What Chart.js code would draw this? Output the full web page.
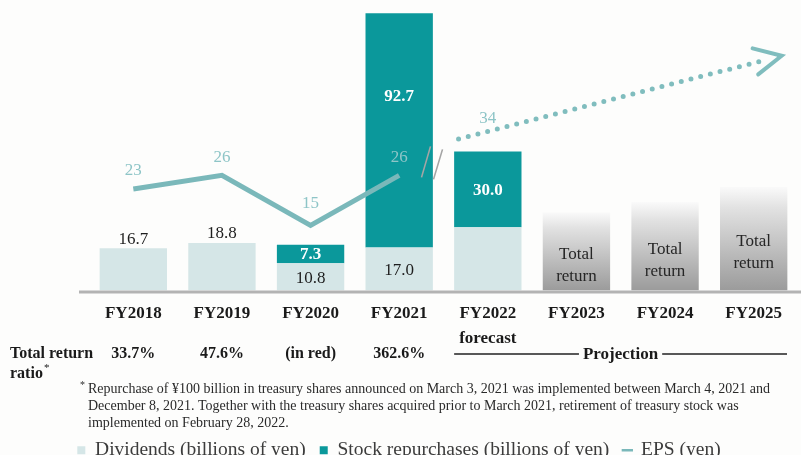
<!DOCTYPE html>
<html>
<head>
<meta charset="utf-8">
<script src="https://cdn.jsdelivr.net/npm/chart.js@4.4.0/dist/chart.umd.min.js"></script>
<style>
  html, body { margin: 0; padding: 0; background: #fdfdfc; }
</style>
</head>
<body>
<canvas id="return-chart" width="801" height="455"></canvas>
<script>
const years = ["FY2018", "FY2019", "FY2020", "FY2021", ["FY2022", "forecast"], "FY2023", "FY2024", "FY2025"];
const dividends = [16.7, 18.8, 10.8, 17.0, 25, null, null, null];
const repurchases = [null, null, 7.3, 92.7, 30.0, null, null, null];
const projectedReturn = [null, null, null, null, null, 31, 35, 41];
const eps = [23, 26, 15, 26];
const epsForecast = 34;
// dotted EPS trend arrow (x in category units)
const epsTrendX = [3.67, 7.13];
const epsTrendY = [34, 51.4];
const returnRatios = ["33.7%", "47.6%", "(in red)", "362.6%"];
const footnote = [
  "Repurchase of \u00a5100 billion in treasury shares announced on March 3, 2021 was implemented between March 4, 2021 and",
  "December 8, 2021. Together with the treasury shares acquired prior to March 2021, retirement of treasury stock was",
  "implemented on February 28, 2022."
];

const serif = "'Liberation Serif', 'Times New Roman', serif";
const epsColor = "#7ab8ba";
const epsText = "#8ec5c7";

function projectionFill(context) {
  const chart = context.chart;
  const yScale = chart.scales.y;
  if (!yScale || !context.parsed || context.parsed.y == null) return "#bdbdbd";
  const top = yScale.getPixelForValue(context.parsed.y);
  const bottom = yScale.getPixelForValue(0);
  if (!isFinite(top) || !isFinite(bottom)) return "#bdbdbd";
  const g = chart.ctx.createLinearGradient(0, top, 0, bottom);
  g.addColorStop(0, "#fafafa");
  g.addColorStop(0.2, "#e2e2e2");
  g.addColorStop(1, "#9b9b9b");
  return g;
}

const annotations = {
  id: "annotations",
  afterDraw(chart) {
    const { ctx, chartArea: area, scales } = chart;
    const x = scales.x, xl = scales.xl, y2 = scales.y2;
    ctx.save();

    // baseline
    ctx.strokeStyle = "#b3b3b3";
    ctx.lineWidth = 3;
    ctx.beginPath();
    ctx.moveTo(area.left - 10, area.bottom + 1.5);
    ctx.lineTo(chart.width, area.bottom + 1.5);
    ctx.stroke();

    ctx.textAlign = "center";
    ctx.textBaseline = "middle";

    // dividend labels (actual years only)
    const divMeta = chart.getDatasetMeta(0);
    dividends.forEach((v, i) => {
      if (v == null || i >= eps.length) return;
      const el = divMeta.data[i];
      ctx.font = `17px ${serif}`;
      ctx.fillStyle = "#1e1e1e";
      const ly = repurchases[i] == null ? el.y - 9 : (el.y + el.base) / 2 + 2;
      ctx.fillText(v.toFixed(1), el.x, ly);
    });

    // repurchase labels
    const repMeta = chart.getDatasetMeta(1);
    repurchases.forEach((v, i) => {
      if (v == null) return;
      const el = repMeta.data[i];
      ctx.font = `bold 17px ${serif}`;
      ctx.fillStyle = "#ffffff";
      const h = el.base - el.y;
      const ly = h > 150 ? el.y + 83 : (el.y + el.base) / 2 + 1;
      ctx.fillText(v.toFixed(1), el.x, ly);
    });

    // projection bars
    const projMeta = chart.getDatasetMeta(2);
    projectedReturn.forEach((v, i) => {
      if (v == null) return;
      const el = projMeta.data[i];
      const mid = (el.y + el.base) / 2;
      ctx.font = `17px ${serif}`;
      ctx.fillStyle = "#262626";
      ctx.fillText("Total", el.x, mid + 3);
      ctx.fillText("return", el.x, mid + 25);
    });

    // EPS labels
    const epsMeta = chart.getDatasetMeta(3);
    ctx.font = `17px ${serif}`;
    ctx.fillStyle = epsText;
    eps.forEach((v, i) => {
      const el = epsMeta.data[i];
      ctx.fillText(String(v), el.x, el.y - (v < 20 ? 22 : 18));
    });
    ctx.fillText(String(epsForecast), x.getPixelForValue(4), y2.getPixelForValue(epsForecast) - 20);

    // break mark
    const bx = xl.getPixelForValue(3.5);
    const by = y2.getPixelForValue(26);
    ctx.strokeStyle = "#a5a5a5";
    ctx.lineWidth = 1.6;
    ctx.beginPath();
    ctx.moveTo(bx - 22, by + 2); ctx.lineTo(bx - 13, by - 29);
    ctx.moveTo(bx - 10, by + 4); ctx.lineTo(bx - 1, by - 26);
    ctx.stroke();

    // arrow head for trend
    const trend = chart.getDatasetMeta(4).data;
    const p0 = trend[0], p1 = trend[trend.length - 1];
    const ang = Math.atan2(p1.y - p0.y, p1.x - p0.x);
    const tipX = p1.x + 17 * Math.cos(ang), tipY = p1.y + 17 * Math.sin(ang);
    ctx.strokeStyle = "#80bdbe";
    ctx.lineWidth = 4;
    ctx.lineCap = "round";
    ctx.beginPath();
    ctx.moveTo(tipX + 30 * Math.cos(ang + Math.PI - 0.42), tipY + 30 * Math.sin(ang + Math.PI - 0.42));
    ctx.lineTo(tipX, tipY);
    ctx.lineTo(tipX + 30 * Math.cos(ang + Math.PI + 0.5), tipY + 30 * Math.sin(ang + Math.PI + 0.5));
    ctx.stroke();
    ctx.lineCap = "butt";

    // total return ratio row
    ctx.fillStyle = "#1a1a1a";
    ctx.font = `bold 16px ${serif}`;
    ctx.textAlign = "left";
    ctx.fillText("Total return", 10, 354);
    ctx.fillText("ratio", 10, 374);
    const rw = ctx.measureText("ratio").width;
    ctx.font = `11px ${serif}`;
    ctx.fillText("*", 10 + rw + 1, 368);
    ctx.font = `bold 16px ${serif}`;
    ctx.textAlign = "center";
    returnRatios.forEach((t, i) => ctx.fillText(t, x.getPixelForValue(i), 354));

    // projection bracket
    const fEl = divMeta.data[4];
    const pl = fEl.x - fEl.width / 2;
    const pr = area.right - 11;
    const pc = (pl + pr) / 2;
    ctx.font = `bold 17px ${serif}`;
    const pw = ctx.measureText("Projection").width;
    ctx.fillText("Projection", pc, 355);
    ctx.strokeStyle = "#222";
    ctx.lineWidth = 1.5;
    ctx.beginPath();
    ctx.moveTo(pl, 354); ctx.lineTo(pc - pw / 2 - 4, 354);
    ctx.moveTo(pc + pw / 2 + 4, 354); ctx.lineTo(pr, 354);
    ctx.stroke();

    // footnote
    ctx.textAlign = "left";
    ctx.textBaseline = "alphabetic";
    ctx.fillStyle = "#2a2a2a";
    ctx.font = `10px ${serif}`;
    ctx.fillText("*", 80, 388);
    ctx.font = `14px ${serif}`;
    const widths = [682, 667, 204];
    footnote.forEach((line, i) => ctx.fillText(line, 88, 393 + i * 17, widths[i]));

    ctx.restore();
  }
};

new Chart(document.getElementById("return-chart"), {
  type: "bar",
  data: {
    labels: years,
    datasets: [
      {
        label: "Dividends (billions of yen)",
        data: dividends,
        backgroundColor: "#d5e6e7",
        stack: "total",
        pointStyle: "rect",
        order: 1
      },
      {
        label: "Stock repurchases (billions of yen)",
        data: repurchases,
        backgroundColor: "#0b989b",
        stack: "total",
        pointStyle: "rect",
        order: 1
      },
      {
        label: "Total return",
        data: projectedReturn,
        backgroundColor: projectionFill,
        stack: "total",
        order: 1
      },
      {
        type: "line",
        label: "EPS (yen)",
        data: eps.map((v, i) => ({ x: i, y: v })),
        xAxisID: "xl",
        yAxisID: "y2",
        borderColor: epsColor,
        backgroundColor: epsColor,
        borderWidth: 5,
        pointRadius: 0,
        pointStyle: "line",
        tension: 0,
        order: 0
      },
      {
        type: "line",
        label: "EPS trend",
        data: epsTrendX.map((v, i) => ({ x: v, y: epsTrendY[i] })),
        xAxisID: "xl",
        yAxisID: "y2",
        borderColor: "#80bdbe",
        borderWidth: 5,
        borderDash: [0, 10],
        borderCapStyle: "round",
        pointRadius: 0,
        order: 0
      }
    ]
  },
  options: {
    responsive: false,
    animation: false,
    layout: { padding: { left: 0, right: 3, top: 5, bottom: -15 } },
    datasets: {
      bar: { categoryPercentage: 1, barPercentage: 0.76, borderWidth: 0, grouped: false }
    },
    scales: {
      x: {
        stacked: true,
        offset: true,
        grid: { display: false },
        border: { display: false },
        ticks: {
          color: "#1a1a1a",
          font: { family: serif, size: 17, weight: "bold", lineHeight: 1.45 },
          padding: 3,
          maxRotation: 0,
          autoSkip: false
        },
        afterFit(scale) { scale.height = 136; }
      },
      xl: { type: "linear", display: false, offset: false, min: -0.5, max: 7.5 },
      y: {
        stacked: true,
        min: 0,
        max: 113,
        grid: { display: false },
        border: { display: false },
        ticks: { display: false },
        afterFit(scale) { scale.width = 89; }
      },
      y2: { display: false, min: 0.66, max: 63.5 }
    },
    plugins: {
      tooltip: { enabled: false },
      legend: {
        position: "bottom",
        labels: {
          color: "#3c3c3c",
          font: { family: serif, size: 19.5 },
          usePointStyle: true,
          boxWidth: 8,
          boxHeight: 8,
          padding: 14,
          generateLabels(chart) {
            return Chart.defaults.plugins.legend.labels.generateLabels(chart)
              .filter(item => item.datasetIndex !== 2 && item.datasetIndex !== 4)
              .sort((a, b) => a.datasetIndex - b.datasetIndex)
              .map(item => Object.assign(item, { lineWidth: item.pointStyle === "line" ? 2.5 : 0 }));
          }
        }
      }
    }
  },
  plugins: [annotations]
});
</script>
</body>
</html>
